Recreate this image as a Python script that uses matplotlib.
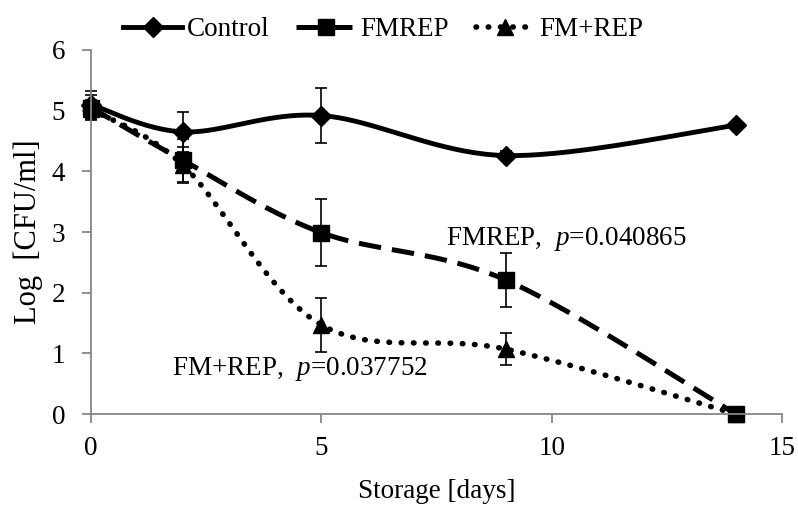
import numpy as np
import matplotlib.pyplot as plt

days = [0, 2, 5, 9, 14]
control = [5.1, 4.65, 4.92, 4.26, 4.76]
control_err = [0.22, 0.33, 0.46, 0.07, 0.05]
fmrep = [5.05, 4.18, 2.99, 2.21, 0.0]
fmrep_err = [0.2, 0.36, 0.55, 0.45, 0.0]
fm_rep = [5.02, 4.1, 1.47, 1.07, 0.0]
fm_rep_err = [0.15, 0.3, 0.44, 0.26, 0.0]


def smooth(x, y, n=40):
    # Excel-style bezier smoothing through the points
    x = np.asarray(x, float)
    y = np.asarray(y, float)
    px, py = [], []
    for i in range(len(x) - 1):
        x0, y0 = (x[i - 1], y[i - 1]) if i > 0 else (x[i], y[i])
        x3, y3 = (x[i + 2], y[i + 2]) if i + 2 < len(x) else (x[i + 1], y[i + 1])
        c1x = x[i] + (x[i + 1] - x0) / 6
        c1y = y[i] + (y[i + 1] - y0) / 6
        c2x = x[i + 1] - (x3 - x[i]) / 6
        c2y = y[i + 1] - (y3 - y[i]) / 6
        t = np.linspace(0, 1, n)
        px.extend((1 - t) ** 3 * x[i] + 3 * (1 - t) ** 2 * t * c1x + 3 * (1 - t) * t ** 2 * c2x + t ** 3 * x[i + 1])
        py.extend((1 - t) ** 3 * y[i] + 3 * (1 - t) ** 2 * t * c1y + 3 * (1 - t) * t ** 2 * c2y + t ** 3 * y[i + 1])
    return px, py


plt.rcParams['font.family'] = ['Liberation Serif', 'DejaVu Serif']
plt.rcParams['mathtext.fontset'] = 'custom'
plt.rcParams['mathtext.it'] = 'Liberation Serif:italic'
plt.rcParams['mathtext.rm'] = 'Liberation Serif'

FS = 19.5

fig = plt.figure(figsize=(7.98, 5.09), dpi=100)
ax = fig.add_axes([0.114, 0.1866, 0.866, 0.7152])

series = [
    ('Control', control, control_err, '-', 3.5, 'D', 10, 'butt'),
    ('FMREP', fmrep, fmrep_err, (0, (4.5, 2.2)), 3.6, 's', 12, 'butt'),
    ('FM+REP', fm_rep, fm_rep_err, (0, (0.1, 2.1)), 4.0, '^', 12, 'round'),
]

handles = []
for name, vals, err, ls, lw, mk, ms, cap in series:
    sx, sy = smooth(days, vals)
    ax.plot(sx, sy, color='black', lw=lw, ls=ls, dash_capstyle=cap,
            clip_on=False)
    ax.errorbar(days, vals, yerr=err, fmt='none', ecolor='black',
                elinewidth=1.2, capsize=4.5, capthick=1.2, clip_on=False)
    ax.plot(days, vals, ls='none', marker=mk, ms=ms, color='black',
            clip_on=False)
    h, = ax.plot([], [], color='black', lw=lw, ls=ls, dash_capstyle=cap,
                 marker=mk, ms=ms)
    handles.append((h, name))

ax.set_xlim(0, 15)
ax.set_ylim(0, 6)
ax.set_xticks([0, 5, 10, 15])
ax.set_yticks(range(7))
for s in ['top', 'right']:
    ax.spines[s].set_visible(False)
for s in ['left', 'bottom']:
    ax.spines[s].set_color('#868686')
    ax.spines[s].set_linewidth(1.3)
ax.tick_params(colors='#868686', width=1.3, length=6.5, labelsize=FS,
               labelcolor='black', direction='out')
ax.tick_params(axis='y', pad=12)
ax.tick_params(axis='x', pad=9)

ax.set_xlabel('Storage [days]', fontsize=FS, labelpad=13)
ax.set_ylabel('Log  [CFU/ml]', fontsize=22, labelpad=6)

ax.text(7.7, 2.78, 'FMREP,  $p$=0.040865', fontsize=FS)
ax.text(1.76, 0.65, 'FM+REP,  $p$=0.037752', fontsize=FS)

fig.legend([h for h, _ in handles], [n for _, n in handles], ncol=3,
           loc='center', bbox_to_anchor=(0.48, 0.942), frameon=False,
           fontsize=FS, handlelength=2.2, columnspacing=1.0,
           handletextpad=0.15)

fig.savefig('out.png', dpi=100)
